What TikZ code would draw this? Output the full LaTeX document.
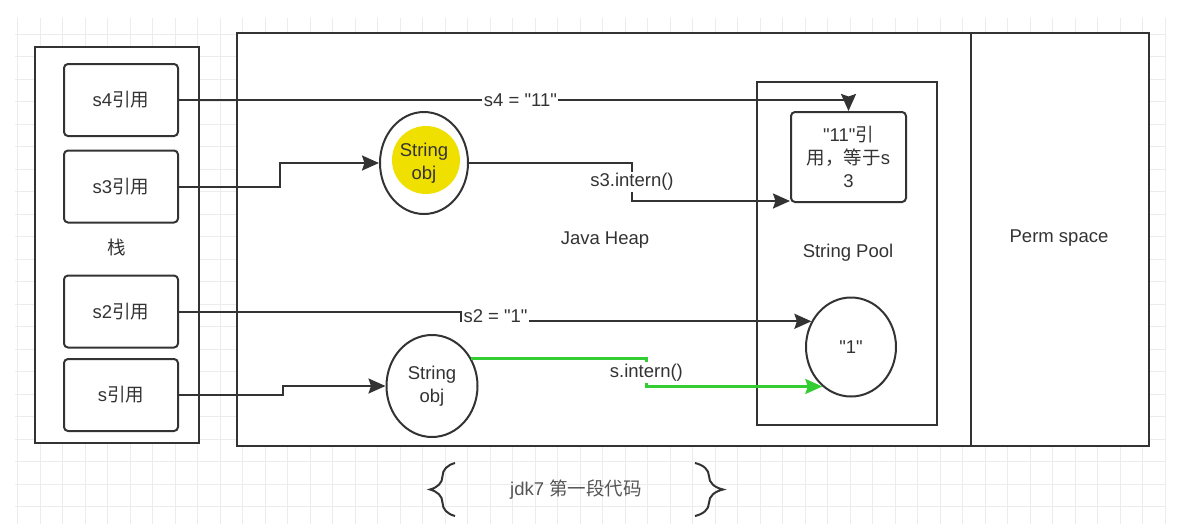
\documentclass[tikz,border=0pt]{standalone}
\usepackage{xcolor}
\usepackage{fontspec}
\setmainfont{Liberation Sans}[Ligatures=TeXOff]
\newfontfamily\cjk{Noto Sans CJK SC}
\usetikzlibrary{shapes.geometric,arrows.meta,decorations.pathreplacing}
\definecolor{ink}{HTML}{333333}
\definecolor{softink}{HTML}{555555}
\definecolor{gridgray}{HTML}{ECECEC}
\definecolor{hlyellow}{HTML}{F0E000}
\definecolor{interngreen}{HTML}{33CC33}

\begin{document}
\begin{tikzpicture}[x=1pt,y=-1pt,
    every node/.style={text=ink, font=\fontsize{18.5}{23}\selectfont},
    area/.style={draw=ink, fill=white, line width=2.4pt, inner sep=0pt},
    refbox/.style={draw=ink, fill=white, line width=2pt, rounded corners=4pt,
        minimum width=114pt, minimum height=72pt},
    obj/.style={ellipse, draw=ink, line width=2pt, align=center, inner sep=0pt},
    conn/.style={draw=ink, line width=2pt, -{Stealth[length=17pt,width=15pt,inset=2.5pt]}},
    lbl/.style={fill=white, inner sep=1.5pt}]
    \useasboundingbox (0,0) rectangle (1203,528);

    % background grid
    \foreach \gx in {17.5,40,...,1165} \draw[gridgray, line width=1pt] (\gx,18) -- (\gx,524);
    \foreach \gy in {34,56.5,...,524} \draw[gridgray, line width=1pt] (15,\gy) -- (1165,\gy);

    % stack
    \node[area, minimum width=164pt, minimum height=396pt] (stack) at (117,245) {};
    \node[refbox] (s4ref) at (121,100) {s4{\cjk 引用}};
    \node[refbox] (s3ref) at (121,186.5) {s3{\cjk 引用}};
    \node (stacklbl) at (117,247) {\cjk 栈};
    \node[refbox] (s2ref) at (121,311.5) {s2{\cjk 引用}};
    \node[refbox] (sref) at (121,395) {s{\cjk 引用}};

    % heap and perm space
    \node[area, minimum width=734pt, minimum height=413pt] (heap) at (604,239.5) {};
    \node[area, minimum width=178pt, minimum height=413pt] (perm) at (1060,239.5) {};
    \node (heaplbl) at (605,240) {Java Heap};
    \node (permlbl) at (1059,238) {Perm space};

    % string pool
    \node[area, minimum width=180pt, minimum height=343pt] (pool) at (847,253.5) {};
    \node (poollbl) at (848,253) {String Pool};
    \node[refbox, minimum width=115pt, minimum height=90pt, align=center] (ref11)
        at (848.5,157) {"11"{\cjk 引}\\{\cjk 用，等于}s\\3};
    \node[obj, minimum width=90pt, minimum height=99pt] (one) at (851,347) {"1"};

    % objects on the heap
    \fill[hlyellow] (426,160) circle (34);
    \node[obj, minimum width=88pt, minimum height=102pt] (obj1) at (424,163) {String\\obj};
    \node[obj, minimum width=91pt, minimum height=102pt] (obj2) at (432,386) {String\\obj};

    % references
    \draw[conn] (s4ref.east) -| node[lbl, pos=0.255] {s4 = "11"} (ref11.north);
    \draw[conn] (s3ref.east) -- ++(101,0) |- (obj1.west);
    \draw[conn] (obj1.east) -- ++(163,0) |- node[lbl, pos=0.25] {s3.intern()} ([yshift=2pt]ref11.south west);
    \draw[conn] (s2ref.east) -- ++(282,0) |- node[lbl, pos=0.25, anchor=west] {s2 = "1"} (one.147);
    \draw[conn] (sref.east) -- ++(104,0) |- (obj2.west);
    \draw[conn, draw=interngreen, line width=2.4pt] (obj2.35) -- ++(175,0) |- node[lbl, pos=0.25] {s.intern()} (one.234);

    % caption
    \node[text=softink] (caption) at (576,490) {jdk7 {\cjk 第一段代码}};
    \draw[ink, line width=2pt, decorate, decoration={brace, amplitude=25pt}] (455,516) -- (455,463);
    \draw[ink, line width=2pt, decorate, decoration={brace, amplitude=28pt}] (695,463) -- (695,516);
\end{tikzpicture}
\end{document}
